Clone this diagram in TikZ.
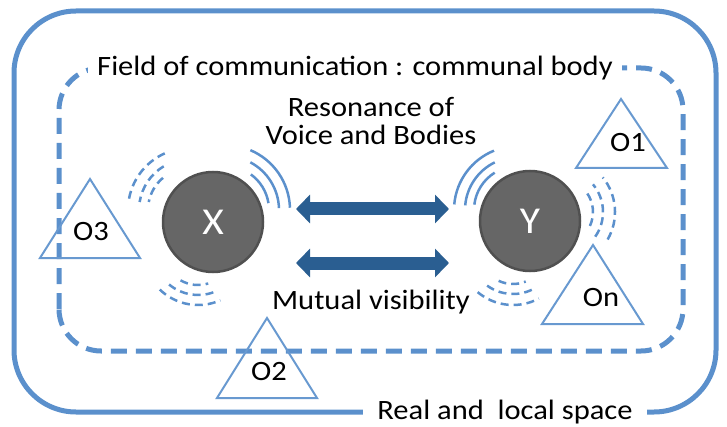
\documentclass[tikz,border=0pt]{standalone}
\usepackage{fontspec}
\setmainfont{Carlito}[FakeStretch=1.09]
\usetikzlibrary{arrows.meta}
\definecolor{frame}{RGB}{91,144,204}
\definecolor{tri}{RGB}{104,153,208}
\definecolor{arr}{RGB}{42,94,145}
\definecolor{disc}{RGB}{102,102,102}
\definecolor{discb}{RGB}{80,80,80}
\begin{document}
\begin{tikzpicture}[x=1pt,y=1pt,
  lbl/.style={font=\fontsize{28}{30}\selectfont, inner sep=0pt},
  olbl/.style={font=\fontsize{28}{30}\selectfont, inner sep=0pt},
  wave/.style={draw=frame, line width=2.5pt},
  dwave/.style={wave, dash pattern=on 8pt off 5pt},
  obs/.style={draw=tri, line width=2pt, line join=miter},
  person/.style={circle, fill=disc, draw=discb, line width=2.5pt, minimum size=100pt, inner sep=0pt, text=white, font=\fontsize{38}{40}\selectfont},
  bigarrow/.style={draw=arr, line width=13pt, {Triangle[width=28pt,length=14pt]}-{Triangle[width=28pt,length=14pt]}}
]
\useasboundingbox (0,0) rectangle (727,426);
% outer frame
\draw[frame, line width=5pt, rounded corners=62pt] (14,14) rectangle (716,415);
\node[lbl, fill=white, inner xsep=14pt, inner ysep=6pt] (real) at (505,14) {Real and\ \ local space};
% inner dashed frame
\draw[frame, line width=5pt, dash pattern=on 16pt off 9pt, rounded corners=42pt] (59,75) rectangle (683,358);
\node[lbl, fill=white, inner xsep=9pt, inner ysep=6pt] (field) at (355,358) {Field of communication : communal body};
% persons
\node[person] (X) at (213,204) {X};
\node[person] (Y) at (530,205) {Y};
% arrows
\coordinate (a1l) at (296,217);
\coordinate (a1r) at (449,217);
\coordinate (a2l) at (296,163);
\coordinate (a2r) at (449,163);
\draw[bigarrow] (a1l) -- (a1r);
\draw[bigarrow] (a2l) -- (a2r);
% texts
\node[lbl] (res1) at (371,319) {Resonance of};
\node[lbl] (res2) at (371,291) {Voice and Bodies};
\node[lbl] (vis) at (371,124) {Mutual visibility};
% waves
\foreach \r/\a/\b in {44/9/54, 54/2/62, 65/2/67}
  \draw[wave] (225,216) ++(\a:\r) arc[start angle=\a, end angle=\b, radius=\r];
\foreach \r/\a/\b in {44/122/173, 53/116/175, 64/112/175}
  \draw[wave] (518,216) ++(\a:\r) arc[start angle=\a, end angle=\b, radius=\r];
\foreach \r/\a/\b in {42/130/169, 51/121/171, 62/114/173}
  \draw[dwave] (190,216) ++(\a:\r) arc[start angle=\a, end angle=\b, radius=\r];
\foreach \r/\a/\b in {35/240/287, 45/230/290, 55/226/294}
  \draw[dwave] (198,176) ++(\a:\r) arc[start angle=\a, end angle=\b, radius=\r];
\foreach \r/\a/\b in {34/245/292, 44/234/296, 55/230/298}
  \draw[dwave] (513,176) ++(\a:\r) arc[start angle=\a, end angle=\b, radius=\r];
\foreach \r/\a/\b in {33/-25/35, 43/-35/40, 55/-30/39}
  \draw[dwave] (560,214) ++(\a:\r) arc[start angle=\a, end angle=\b, radius=\r];
% observers
\draw[obs] (576,258) -- (621,327) -- (667,258) -- cycle;
\node[olbl] (o1) at (628,283) {O1};
\draw[obs] (40,168) -- (90,247) -- (140,168) -- cycle;
\node[olbl] (o3) at (91,194) {O3};
\draw[obs] (217,28) -- (267,108) -- (317,28) -- cycle;
\node[olbl] (o2) at (269,54) {O2};
\draw[obs] (542,102) -- (593,181) -- (643,102) -- cycle;
\node[olbl] (on) at (601,128) {On};
\end{tikzpicture}
\end{document}
